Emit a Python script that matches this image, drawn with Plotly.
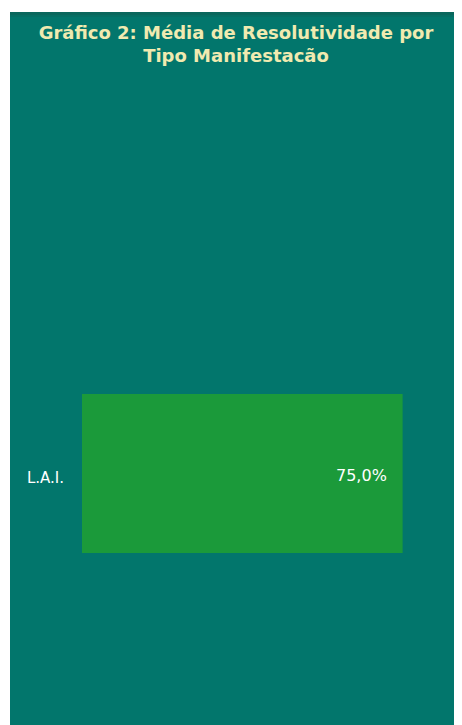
import plotly.graph_objects as go

categories = ["L.A.I."]
values = [0.75]
title_lines = ["Gráfico 2: Média de Resolutividade por", "Tipo Manifestacão"]

# the page body adds an 8px margin, so the figure is sized to fill the rest of the window
OFF = 8
W, H = 462 - OFF, 725 - OFF
ml, mr, mt, mb = 74, 38, 215, 1
pw = W - ml - mr
ph = H - mt - mb

TEAL = "#02766c"
BAR = "#1b9a3a"
TITLE_C = "#f0eab0"
FONT = "DejaVu Sans"


def px(x):
    return (x - ml) / pw


def py(y):
    return 1 - (y - mt) / ph


labels = [f"{v*100:.1f}".replace(".", ",") + "%" for v in values]

fig = go.Figure(
    go.Bar(
        x=values,
        y=categories,
        orientation="h",
        marker=dict(color=BAR, line=dict(width=0)),
        hoverinfo="skip",
    )
)

for v, c, t in zip(values, categories, labels):
    fig.add_annotation(
        x=v, y=c, xref="x", yref="y", text=t, showarrow=False,
        xanchor="right", yanchor="middle", xshift=-14, yshift=-2,
        font=dict(family=FONT, size=16, color="#ffffff"),
    )

shapes = [
    # white strips left / top (the rest of the white border comes from the page margin)
    dict(type="rect", xref="paper", yref="paper", x0=px(-5), x1=px(2), y0=py(-5), y1=py(H + 5),
         fillcolor="#ffffff", line=dict(width=0), layer="below"),
    dict(type="rect", xref="paper", yref="paper", x0=px(-5), x1=px(W + 5), y0=py(-5), y1=py(4),
         fillcolor="#ffffff", line=dict(width=0), layer="below"),
    # darker shadow band at the top of the panel
    dict(type="rect", xref="paper", yref="paper", x0=px(2), x1=px(W + 5), y0=py(4), y1=py(7),
         fillcolor="#0a675d", line=dict(width=0), layer="below"),
    dict(type="rect", xref="paper", yref="paper", x0=px(2), x1=px(W + 5), y0=py(7), y1=py(9),
         fillcolor="#066f64", line=dict(width=0), layer="below"),
]

fig.update_layout(
    width=W, height=H,
    margin=dict(l=ml, r=mr, t=mt, b=mb, pad=0),
    paper_bgcolor=TEAL,
    plot_bgcolor="rgba(0,0,0,0)",
    bargap=1 - 159 / ph,
    showlegend=False,
    shapes=shapes,
    title=dict(
        text="<br>".join(title_lines),
        x=228 / W, xref="container", xanchor="center",
        y=1 - 31 / H, yref="container", yanchor="top",
        font=dict(family=FONT, size=18, color=TITLE_C, weight="bold"),
    ),
    xaxis=dict(range=[0, 0.8], visible=False, fixedrange=True),
    yaxis=dict(
        showgrid=False, zeroline=False, showline=False, ticks="",
        ticklabelstandoff=17, ticklabelshift=4,
        tickfont=dict(family=FONT, size=15, color="#ffffff"),
        fixedrange=True,
    ),
)

fig.write_html("out.html")
